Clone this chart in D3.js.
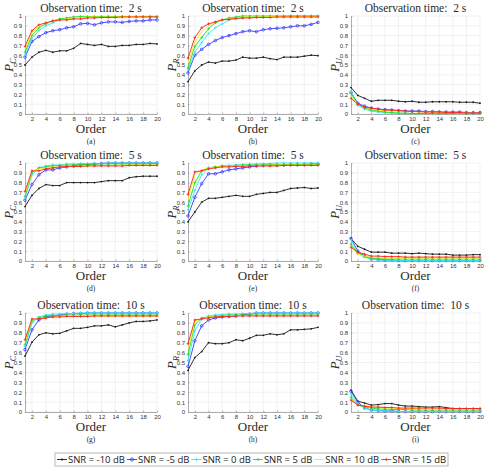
<!DOCTYPE html>
<html>
<head>
<meta charset="utf-8">
<script src="https://cdn.jsdelivr.net/npm/d3@7"></script>
<style>
body { margin: 0; background: #fff; }
svg { display: block; }
.serif { font-family: "Liberation Serif", "Times New Roman", serif; font-weight: normal; fill: #2a2a2a; }
</style>
</head>
<body>
<script>
// data, order 1..20
let orders = [1,2,3,4,5,6,7,8,9,10,11,12,13,14,15,16,17,18,19,20];
let xTicks = [2,4,6,8,10,12,14,16,18,20];
let yTicks = [0,0.1,0.2,0.3,0.4,0.5,0.6,0.7,0.8,0.9,1];
let snrNames = ["SNR = -10 dB", "SNR = -5 dB", "SNR = 0 dB", "SNR = 5 dB", "SNR = 10 dB", "SNR = 15 dB"];
let titles = ["Observation time:  2 s", "Observation time:  5 s", "Observation time:  10 s"];
let letters = ["(a)","(b)","(c)","(d)","(e)","(f)","(g)","(h)","(i)"];
let subs = ["C","R","U"];

// series order in each panel: -10, -5, 0, 5, 10, 15 dB
let pc2 = [
  [0.50,0.58,0.63,0.65,0.63,0.645,0.645,0.67,0.72,0.71,0.70,0.71,0.69,0.69,0.70,0.70,0.71,0.71,0.72,0.715],
  [0.58,0.74,0.79,0.83,0.85,0.86,0.88,0.89,0.92,0.925,0.91,0.93,0.94,0.94,0.935,0.945,0.95,0.95,0.96,0.96],
  [0.60,0.77,0.85,0.90,0.93,0.96,0.97,0.98,0.99,0.99,0.99,0.995,0.995,0.995,0.995,0.995,0.995,0.995,0.995,0.995],
  [0.63,0.80,0.88,0.92,0.95,0.97,0.98,0.99,0.995,0.995,0.995,0.995,0.995,0.995,0.995,0.995,0.995,0.995,0.995,0.995],
  [0.66,0.83,0.89,0.93,0.95,0.96,0.97,0.98,0.985,0.99,0.99,0.99,0.99,0.99,0.995,0.995,0.995,0.995,1.0,1.0],
  [0.69,0.85,0.91,0.93,0.95,0.96,0.96,0.97,0.97,0.98,0.98,0.985,0.985,0.985,0.99,0.99,0.99,0.99,0.99,0.99]
];
let pr2 = [
  [0.33,0.44,0.50,0.53,0.52,0.54,0.54,0.55,0.58,0.57,0.57,0.58,0.565,0.555,0.58,0.58,0.58,0.59,0.60,0.595],
  [0.42,0.60,0.66,0.71,0.75,0.78,0.80,0.82,0.84,0.85,0.84,0.86,0.87,0.875,0.88,0.89,0.90,0.90,0.915,0.935],
  [0.45,0.63,0.73,0.82,0.88,0.92,0.96,0.97,0.98,0.99,0.99,0.99,0.995,0.995,0.995,1.0,1.0,1.0,1.0,1.0],
  [0.47,0.69,0.78,0.87,0.93,0.96,0.98,0.99,1.0,1.0,1.0,1.0,1.0,1.0,1.0,1.0,1.0,1.0,1.0,1.0],
  [0.52,0.73,0.84,0.90,0.94,0.96,0.97,0.98,0.99,0.99,0.99,0.99,0.995,0.995,0.995,0.995,0.995,0.995,0.995,0.995],
  [0.57,0.78,0.88,0.92,0.94,0.96,0.965,0.975,0.98,0.98,0.985,0.985,0.985,0.99,0.99,0.99,0.99,0.99,0.99,0.99]
];
let pu2 = [
  [0.27,0.19,0.16,0.13,0.14,0.14,0.14,0.13,0.125,0.13,0.12,0.12,0.125,0.125,0.125,0.125,0.12,0.12,0.12,0.11],
  [0.22,0.11,0.08,0.06,0.05,0.045,0.04,0.035,0.03,0.03,0.03,0.025,0.025,0.02,0.02,0.02,0.02,0.015,0.015,0.015],
  [0.23,0.09,0.05,0.03,0.02,0.015,0.01,0.005,0.005,0.005,0.005,0.005,0.005,0.005,0.005,0.005,0.005,0.005,0.005,0.005],
  [0.21,0.10,0.06,0.04,0.03,0.02,0.015,0.01,0.01,0.005,0.005,0.005,0.005,0.005,0.005,0.005,0.005,0.005,0.005,0.005],
  [0.18,0.10,0.07,0.05,0.04,0.035,0.03,0.03,0.025,0.025,0.02,0.02,0.02,0.015,0.015,0.015,0.01,0.01,0.01,0.01],
  [0.16,0.10,0.07,0.06,0.05,0.04,0.04,0.035,0.03,0.025,0.025,0.02,0.02,0.02,0.015,0.015,0.015,0.01,0.01,0.01]
];
let pc5 = [
  [0.555,0.67,0.74,0.78,0.77,0.77,0.80,0.80,0.80,0.80,0.80,0.81,0.82,0.82,0.82,0.85,0.86,0.865,0.865,0.865],
  [0.62,0.78,0.88,0.93,0.93,0.95,0.96,0.97,0.98,0.985,0.99,0.995,1.0,1.0,1.0,1.0,1.0,1.0,1.0,1.0],
  [0.64,0.88,0.95,0.97,0.98,0.98,0.99,0.99,0.995,0.995,0.995,0.995,1.0,1.0,1.0,1.0,1.0,1.0,1.0,1.0],
  [0.66,0.90,0.95,0.96,0.97,0.975,0.98,0.98,0.985,0.985,0.99,0.99,0.99,0.99,0.99,0.99,0.99,0.99,0.99,0.99],
  [0.68,0.91,0.94,0.95,0.96,0.96,0.965,0.965,0.97,0.97,0.97,0.975,0.975,0.975,0.98,0.98,0.98,0.98,0.98,0.98],
  [0.71,0.92,0.92,0.94,0.95,0.96,0.965,0.965,0.965,0.97,0.97,0.97,0.97,0.97,0.97,0.975,0.975,0.975,0.975,0.975]
];
let pr5 = [
  [0.40,0.50,0.60,0.64,0.64,0.65,0.66,0.67,0.66,0.66,0.68,0.69,0.70,0.70,0.72,0.74,0.745,0.75,0.74,0.745],
  [0.46,0.65,0.79,0.89,0.89,0.91,0.93,0.94,0.95,0.96,0.97,0.975,0.98,0.98,0.98,0.985,0.985,0.985,0.99,0.99],
  [0.52,0.72,0.88,0.95,0.96,0.97,0.975,0.98,0.985,0.99,0.99,0.995,0.995,1.0,1.0,1.0,1.0,1.0,1.0,1.0],
  [0.56,0.80,0.92,0.95,0.96,0.97,0.97,0.975,0.98,0.98,0.98,0.98,0.985,0.985,0.985,0.985,0.985,0.985,0.985,0.985],
  [0.62,0.88,0.93,0.95,0.96,0.965,0.97,0.97,0.975,0.975,0.975,0.975,0.98,0.98,0.98,0.98,0.98,0.98,0.98,0.98],
  [0.68,0.91,0.92,0.94,0.95,0.96,0.96,0.965,0.965,0.97,0.97,0.97,0.97,0.97,0.975,0.975,0.975,0.975,0.975,0.975]
];
let pu5 = [
  [0.23,0.15,0.12,0.09,0.09,0.09,0.08,0.08,0.08,0.075,0.08,0.075,0.07,0.07,0.07,0.06,0.06,0.06,0.065,0.065],
  [0.23,0.10,0.05,0.02,0.015,0.01,0.01,0.005,0.005,0.005,0.005,0.005,0.005,0.005,0.005,0.005,0.005,0.005,0.005,0.005],
  [0.22,0.08,0.04,0.02,0.01,0.01,0.005,0.005,0.005,0.005,0.005,0.005,0.005,0.005,0.005,0.005,0.005,0.005,0.005,0.005],
  [0.17,0.08,0.05,0.03,0.025,0.02,0.02,0.02,0.02,0.02,0.02,0.02,0.02,0.02,0.02,0.02,0.02,0.02,0.02,0.02],
  [0.15,0.07,0.05,0.04,0.035,0.03,0.03,0.03,0.03,0.03,0.03,0.03,0.03,0.03,0.03,0.03,0.03,0.03,0.03,0.03],
  [0.14,0.09,0.07,0.05,0.05,0.045,0.045,0.045,0.04,0.04,0.04,0.04,0.04,0.04,0.04,0.04,0.04,0.04,0.04,0.04]
];
let pc10 = [
  [0.565,0.705,0.78,0.80,0.79,0.795,0.82,0.845,0.845,0.855,0.87,0.87,0.88,0.86,0.88,0.90,0.915,0.915,0.92,0.93],
  [0.63,0.83,0.93,0.96,0.97,0.98,0.99,0.995,0.995,1.0,1.0,1.0,1.0,1.0,1.0,1.0,1.0,1.0,1.0,1.0],
  [0.66,0.90,0.96,0.98,0.99,0.99,0.995,0.995,1.0,1.0,1.0,1.0,1.0,1.0,1.0,1.0,1.0,1.0,1.0,1.0],
  [0.68,0.92,0.95,0.97,0.975,0.975,0.98,0.98,0.98,0.98,0.98,0.98,0.98,0.98,0.98,0.98,0.98,0.98,0.98,0.98],
  [0.71,0.93,0.94,0.95,0.96,0.965,0.97,0.97,0.97,0.97,0.97,0.97,0.97,0.97,0.97,0.97,0.97,0.97,0.97,0.97],
  [0.73,0.94,0.94,0.95,0.96,0.96,0.965,0.965,0.965,0.965,0.97,0.97,0.97,0.97,0.97,0.97,0.97,0.97,0.97,0.97]
];
let pr10 = [
  [0.42,0.55,0.61,0.70,0.69,0.69,0.70,0.73,0.72,0.745,0.775,0.775,0.79,0.78,0.79,0.83,0.83,0.835,0.84,0.855],
  [0.46,0.72,0.87,0.93,0.95,0.96,0.965,0.97,0.98,0.99,1.0,1.0,1.0,1.0,1.0,1.0,1.0,1.0,1.0,1.0],
  [0.52,0.82,0.94,0.97,0.98,0.985,0.99,0.99,0.995,0.995,1.0,1.0,1.0,1.0,1.0,1.0,1.0,1.0,1.0,1.0],
  [0.58,0.88,0.95,0.96,0.97,0.975,0.98,0.98,0.98,0.98,0.98,0.98,0.98,0.98,0.98,0.98,0.98,0.98,0.98,0.98],
  [0.63,0.92,0.94,0.96,0.965,0.97,0.97,0.975,0.975,0.975,0.975,0.975,0.975,0.975,0.975,0.975,0.975,0.975,0.975,0.975],
  [0.69,0.93,0.94,0.95,0.96,0.965,0.965,0.97,0.97,0.97,0.97,0.97,0.97,0.97,0.97,0.97,0.97,0.97,0.97,0.97]
];
let pu10 = [
  [0.22,0.11,0.09,0.07,0.075,0.085,0.085,0.07,0.06,0.06,0.055,0.05,0.05,0.055,0.045,0.035,0.035,0.035,0.035,0.035],
  [0.21,0.10,0.04,0.02,0.015,0.01,0.01,0.005,0.005,0.005,0.005,0.005,0.005,0.005,0.005,0.005,0.005,0.005,0.005,0.005],
  [0.18,0.08,0.04,0.02,0.015,0.01,0.01,0.005,0.005,0.005,0.005,0.005,0.005,0.005,0.005,0.005,0.005,0.005,0.005,0.005],
  [0.15,0.07,0.05,0.04,0.03,0.03,0.025,0.025,0.025,0.02,0.02,0.02,0.02,0.02,0.02,0.02,0.02,0.02,0.02,0.02],
  [0.13,0.07,0.06,0.05,0.045,0.04,0.04,0.035,0.035,0.035,0.035,0.03,0.03,0.03,0.03,0.03,0.03,0.03,0.03,0.03],
  [0.12,0.07,0.06,0.05,0.05,0.045,0.045,0.04,0.04,0.04,0.04,0.04,0.04,0.04,0.035,0.035,0.035,0.035,0.035,0.035]
];

let panelData = [pc2, pr2, pu2, pc5, pr5, pu5, pc10, pr10, pu10];

let colors = ["#1a1a1a", "#3a3aff", "#33e6ff", "#22dd22", "#f2f200", "#ff2020"];
let markers = ["dot", "circle", "plus", "plus", "none", "plus"];

let width = 485;
let height = 468;

let svg = d3.select("body").append("svg")
    .attr("width", width)
    .attr("height", height);

let colLeft = [25, 188, 351];
let colRight = [157, 318, 480];
let rowTop = [16, 163, 313];
let rowBottom = [114, 261, 412];

let sans = "'Liberation Sans', Arial, sans-serif";

function drawMarkers(g, x, y, vals, kind, color) {
    if (kind == "dot") {
        g.selectAll(".m").data(vals).join("circle")
            .attr("cx", (d, i) => x(orders[i]))
            .attr("cy", d => y(d))
            .attr("r", 0.9)
            .attr("fill", color);
    } else if (kind == "circle") {
        g.selectAll(".m").data(vals).join("circle")
            .attr("cx", (d, i) => x(orders[i]))
            .attr("cy", d => y(d))
            .attr("r", 1.3)
            .attr("fill", "none")
            .attr("stroke", color)
            .attr("stroke-width", 0.8);
    } else if (kind == "plus") {
        g.selectAll(".m").data(vals).join("path")
            .attr("d", (d, i) => "M" + (x(orders[i]) - 1.4) + "," + y(d) + "h2.8M" + x(orders[i]) + "," + (y(d) - 1.4) + "v2.8")
            .attr("stroke", color)
            .attr("stroke-width", 0.7);
    }
}

panelData.forEach((series, p) => {
    let row = Math.floor(p / 3);
    let col = p % 3;
    let l = colLeft[col], r = colRight[col], t = rowTop[row], b = rowBottom[row];

    let x = d3.scaleLinear().domain([1, 20]).range([l, r]);
    let y = d3.scaleLinear().domain([0, 1]).range([b, t]);

    let g = svg.append("g");

    // grid
    g.selectAll(".gy").data(yTicks).join("line")
        .attr("x1", l).attr("x2", r)
        .attr("y1", d => y(d)).attr("y2", d => y(d))
        .attr("stroke", "#e8e8e8").attr("stroke-width", 0.6);
    g.selectAll(".gx").data(xTicks).join("line")
        .attr("x1", d => x(d)).attr("x2", d => x(d))
        .attr("y1", t).attr("y2", b)
        .attr("stroke", "#e8e8e8").attr("stroke-width", 0.6);

    // axes
    let ya = g.append("g").attr("transform", "translate(" + l + ",0)")
        .call(d3.axisLeft(y).tickValues(yTicks).tickFormat(d => d).tickSizeInner(-1.5).tickSizeOuter(0).tickPadding(3));
    let xa = g.append("g").attr("transform", "translate(0," + b + ")")
        .call(d3.axisBottom(x).tickValues(xTicks).tickFormat(d => d).tickSizeInner(-1.5).tickSizeOuter(0).tickPadding(2.5));
    [ya, xa].forEach(a => {
        a.select(".domain").attr("stroke", "#8c8c8c").attr("stroke-width", 0.7);
        a.selectAll(".tick line").attr("stroke", "#8c8c8c").attr("stroke-width", 0.6);
        a.selectAll("text").attr("fill", "#333").style("font-family", sans).style("font-size", "6px");
    });

    // lines
    let line = d3.line()
        .x((d, i) => x(orders[i]))
        .y(d => y(d));

    series.forEach((vals, s) => {
        let sg = g.append("g");
        sg.append("path")
            .datum(vals)
            .attr("d", line)
            .attr("fill", "none")
            .attr("stroke", colors[s])
            .attr("stroke-width", 0.9);
        drawMarkers(sg, x, y, vals, markers[s], colors[s]);
    });

    // title
    g.append("text")
        .attr("class", "serif")
        .attr("x", (l + r) / 2)
        .attr("y", t - 4)
        .attr("text-anchor", "middle")
        .style("font-size", "11.5px")
        .style("white-space", "pre")
        .text(titles[row]);

    // x label
    g.append("text")
        .attr("class", "serif")
        .attr("x", (l + r) / 2)
        .attr("y", b + 18.5)
        .attr("text-anchor", "middle")
        .style("font-size", "13px")
        .text("Order");

    // panel letter
    g.append("text")
        .attr("class", "serif")
        .attr("x", (l + r) / 2)
        .attr("y", b + 30)
        .attr("text-anchor", "middle")
        .style("font-size", "7.5px")
        .text(letters[p]);

    // y label
    let yl = g.append("text")
        .attr("class", "serif")
        .attr("transform", "translate(" + (l - 12) + "," + ((t + b) / 2) + ") rotate(-90)")
        .attr("text-anchor", "middle")
        .style("font-style", "italic")
        .style("font-size", "13px");
    yl.append("tspan").text("P");
    yl.append("tspan").attr("dy", 2.5).style("font-size", "8px").text(subs[col]);
});

// legend
let legend = svg.append("g");
legend.append("rect")
    .attr("x", 55).attr("y", 453)
    .attr("width", 393).attr("height", 13)
    .attr("fill", "#fff")
    .attr("stroke", "#9a9a9a")
    .attr("stroke-width", 0.7);

let lx = 57;
snrNames.forEach((name, s) => {
    let eg = legend.append("g");
    eg.append("line")
        .attr("x1", lx).attr("x2", lx + 10)
        .attr("y1", 459.5).attr("y2", 459.5)
        .attr("stroke", colors[s]).attr("stroke-width", 0.9);
    if (markers[s] == "dot") {
        eg.append("circle").attr("cx", lx + 5).attr("cy", 459.5).attr("r", 1.1).attr("fill", colors[s]);
    } else if (markers[s] == "circle") {
        eg.append("circle").attr("cx", lx + 5).attr("cy", 459.5).attr("r", 1.6)
            .attr("fill", "none").attr("stroke", colors[s]).attr("stroke-width", 0.8);
    } else if (markers[s] == "plus") {
        eg.append("path").attr("d", "M" + (lx + 3.3) + ",459.5h3.4M" + (lx + 5) + ",457.8v3.4")
            .attr("stroke", colors[s]).attr("stroke-width", 0.8);
    }
    let txt = eg.append("text")
        .attr("x", lx + 11)
        .attr("y", 463)
        .style("font-family", "'Open Sans', 'Noto Sans', sans-serif")
        .style("font-size", "9.5px")
        .attr("fill", "#222")
        .text(name);
    lx = lx + 11 + txt.node().getComputedTextLength() + 2;
});
</script>
</body>
</html>
